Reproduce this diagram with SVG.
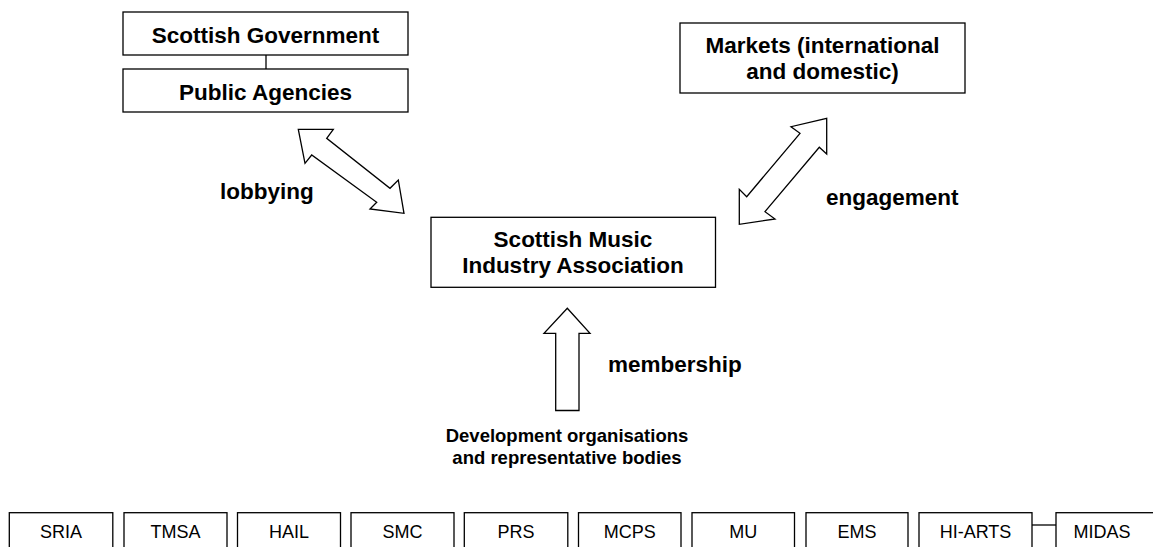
<svg xmlns="http://www.w3.org/2000/svg" width="1153" height="547" viewBox="0 0 1153 547">
<style>
.box{fill:#fff;stroke:#000;stroke-width:1.3}
.arrow{fill:#fff;stroke:#000;stroke-width:1.3;stroke-linejoin:miter}
.line{stroke:#000;stroke-width:1.3;fill:none}
.big{font-family:"Liberation Sans",Arial,sans-serif;font-weight:bold;font-size:22.5px;fill:#000;text-anchor:middle}
.lbl{font-family:"Liberation Sans",Arial,sans-serif;font-weight:bold;font-size:22.5px;fill:#000}
.mid{font-family:"Liberation Sans",Arial,sans-serif;font-weight:bold;font-size:18.5px;fill:#000;text-anchor:middle}
.sm{font-family:"Liberation Sans",Arial,sans-serif;font-size:18px;fill:#000;text-anchor:middle}
</style>
<rect width="1153" height="547" fill="#fff"/>
<g id="connectors">
<line class="line" x1="266" y1="55" x2="266" y2="69"/>
<line class="line" x1="1032" y1="525" x2="1056" y2="525"/>
<polygon class="arrow" points="298.3,129.3 333.3,129.3 326.7,138.3 390,188.3 398.3,180 404,213.3 370,209 376.7,202.3 311.7,155 305,163.3"/>
<polygon class="arrow" points="826.7,118.3 826.7,154 819.3,147.3 765,211.7 775,219 739.3,224.3 739.3,189.3 746.7,196.7 800,133.3 791,126.7"/>
<polygon class="arrow" points="567.3,308.3 590,333.3 579,333.3 579,410.5 555.7,410.5 555.7,333.3 544,333.3"/>
<text class="lbl" x="220" y="199">lobbying</text>
<text class="lbl" x="826" y="205">engagement</text>
<text class="lbl" x="608" y="372">membership</text>
</g>
<g id="scottish-government">
<rect class="box" x="123" y="12" width="285" height="43"/>
<text class="big" x="265.5" y="43">Scottish Government</text>
</g>
<g id="public-agencies">
<rect class="box" x="123" y="69" width="285" height="43"/>
<text class="big" x="265.5" y="100">Public Agencies</text>
</g>
<g id="markets">
<rect class="box" x="680" y="23" width="285" height="70"/>
<text class="big" x="822.5" y="52.7">Markets (international</text>
<text class="big" x="822.5" y="79">and domestic)</text>
</g>
<g id="smia">
<rect class="box" x="431" y="217.3" width="284.5" height="70"/>
<text class="big" x="573" y="246.7">Scottish Music</text>
<text class="big" x="573" y="272.7">Industry Association</text>
</g>
<g id="development">
<text class="mid" x="567" y="441.5">Development organisations</text>
<text class="mid" x="567" y="464">and representative bodies</text>
</g>
<g id="sria"><rect class="box" x="9.3" y="512.7" width="103.5" height="50"/><text class="sm" x="61" y="538">SRIA</text></g>
<g id="tmsa"><rect class="box" x="124" y="512.7" width="103" height="50"/><text class="sm" x="175.5" y="538">TMSA</text></g>
<g id="hail"><rect class="box" x="237.5" y="512.7" width="103" height="50"/><text class="sm" x="289" y="538">HAIL</text></g>
<g id="smc"><rect class="box" x="351" y="512.7" width="103" height="50"/><text class="sm" x="402.5" y="538">SMC</text></g>
<g id="prs"><rect class="box" x="464.3" y="512.7" width="103.5" height="50"/><text class="sm" x="516" y="538">PRS</text></g>
<g id="mcps"><rect class="box" x="578.5" y="512.7" width="102.5" height="50"/><text class="sm" x="629.7" y="538">MCPS</text></g>
<g id="mu"><rect class="box" x="692" y="512.7" width="102.5" height="50"/><text class="sm" x="743.3" y="538">MU</text></g>
<g id="ems"><rect class="box" x="806" y="512.7" width="102" height="50"/><text class="sm" x="857" y="538">EMS</text></g>
<g id="hi-arts"><rect class="box" x="919" y="512.7" width="113" height="50"/><text class="sm" x="975.5" y="538">HI-ARTS</text></g>
<g id="midas"><rect class="box" x="1056" y="512.7" width="110" height="50"/><text class="sm" x="1102" y="538">MIDAS</text></g>
</svg>
